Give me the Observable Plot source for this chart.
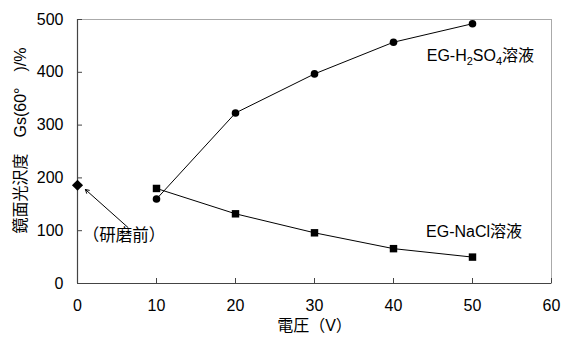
<!DOCTYPE html>
<html><head><meta charset="utf-8">
<script src="https://cdn.jsdelivr.net/npm/d3@7"></script>
<script src="https://cdn.jsdelivr.net/npm/@observablehq/plot@0.6"></script>
<style>body{margin:0;background:#fff;} svg{font-family:"Liberation Sans","Noto Sans CJK JP",sans-serif;}</style>
</head><body><div id="c"></div>
<script>
const voltage = [10, 20, 30, 40, 50];
const h2so4 = [160, 323, 397, 457, 492];
const nacl = [180, 132, 96, 66, 50];
const before = [{v: 0, g: 186}];
const xTicks = [0, 10, 20, 30, 40, 50, 60];
const yTicks = [0, 100, 200, 300, 400, 500];
const labelH2 = "EG-H2SO4溶液";
const labelNa = "EG-NaCl溶液";
const labelBefore = "（研磨前）";
const xLabel = "電圧（V）";
const yLabel = "鏡面光沢度　Gs(60°　)/%";

const dH = voltage.map((v, i) => ({v, g: h2so4[i]}));
const dN = voltage.map((v, i) => ({v, g: nacl[i]}));

const FF = '"Liberation Sans", "Noto Sans CJK JP", sans-serif';
const chart = Plot.plot({
  width: 562, height: 340,
  marginLeft: 77, marginRight: 11, marginTop: 19, marginBottom: 57,
  style: {fontFamily: FF, fontSize: "15px", color: "#000", background: "#fff"},
  x: {domain: [0, 60]},
  y: {domain: [0, 500]},
  marks: [
    Plot.frame({stroke: "#aaa"}),
    Plot.ruleX([0], {stroke: "#444", strokeWidth: 1.2}),
    Plot.ruleY([0], {stroke: "#444", strokeWidth: 1.2}),
    Plot.axisX({ticks: xTicks, tickSize: -5, tickPadding: 21, label: null, fontSize: 16, stroke: "#444", fill: "#000"}),
    Plot.axisY({ticks: yTicks, tickSize: -5, tickPadding: 19, label: null, fontSize: 16, stroke: "#444", fill: "#000"}),
    Plot.text([xLabel], {frameAnchor: "bottom", dy: 47, text: d => d, fontSize: 16, fill: "#000"}),
    Plot.text([yLabel], {frameAnchor: "left", textAnchor: "middle", dx: -57, dy: -11, rotate: -90, text: d => d, fontSize: 16, fill: "#000"}),
    Plot.line(dH, {x: "v", y: "g", stroke: "#000", strokeWidth: 1}),
    Plot.line(dN, {x: "v", y: "g", stroke: "#000", strokeWidth: 1}),
    Plot.dot(dH, {x: "v", y: "g", r: 3.8, fill: "#000", stroke: "none"}),
    Plot.dot(dN, {x: "v", y: "g", symbol: "square", r: 4.2, fill: "#000", stroke: "none"}),
    Plot.dot(before, {x: "v", y: "g", symbol: "diamond2", r: 5, fill: "#000", stroke: "none"}),
    Plot.arrow([{x1: 6.4, y1: 106, x2: 1.0, y2: 178}], {x1: "x1", y1: "y1", x2: "x2", y2: "y2", stroke: "#000", strokeWidth: 1, headLength: 6}),
    Plot.text([labelBefore], {x: 5.9, y: 91, text: d => d, fontSize: 16.5, fill: "#000"}),
    Plot.text([labelH2], {x: 51.0, y: 431, text: d => d, fontSize: 16, fill: "#000"}),
    Plot.text([labelNa], {x: 50.2, y: 98, text: d => d, fontSize: 16, fill: "#000"})
  ]
});
document.getElementById("c").append(chart);
// subscripts for H2SO4
d3.select(chart).selectAll("text").filter(function () { return this.textContent === labelH2; }).each(function () {
  const t = d3.select(this);
  t.text(null);
  t.append("tspan").text("EG-H");
  t.append("tspan").attr("font-size", 11).attr("dy", 4).text("2");
  t.append("tspan").attr("dy", -4).text("SO");
  t.append("tspan").attr("font-size", 11).attr("dy", 4).text("4");
  t.append("tspan").attr("dy", -4).text("溶液");
});
</script></body></html>
